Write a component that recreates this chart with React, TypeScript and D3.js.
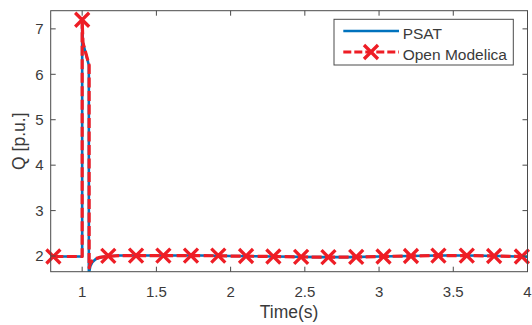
import React from "react";
import * as d3 from "d3";

// PSAT series
const psatT = [0.788, 1.0, 1.0, 1.005, 1.045, 1.045, 1.055, 1.07, 1.09, 1.12, 1.16, 1.25, 1.5, 1.8, 2.0, 2.3, 2.6, 2.8, 3.0, 3.2, 3.4, 3.6, 3.8, 4.0];
const psatQ = [1.99, 1.99, 7.2, 6.7, 6.2, 1.6, 1.78, 1.87, 1.93, 1.97, 1.99, 2.01, 2.01, 2.01, 2.0, 1.99, 1.975, 1.975, 1.99, 2.0, 2.01, 2.01, 2.0, 1.985];

// Open Modelica series
const omT = [0.806, 1.0, 1.0, 1.005, 1.047, 1.047, 1.055, 1.07, 1.09, 1.12, 1.16, 1.25, 1.5, 1.8, 2.0, 2.3, 2.6, 2.8, 3.0, 3.2, 3.4, 3.6, 3.8, 4.0];
const omQ = [1.99, 1.99, 7.2, 6.7, 6.2, 1.74, 1.84, 1.9, 1.94, 1.97, 1.99, 2.01, 2.01, 2.01, 2.0, 1.99, 1.975, 1.975, 1.99, 2.0, 2.01, 2.01, 2.0, 1.985];

// Open Modelica marker positions
const omMarkT = [0.806, 1.0, 1.176, 1.363, 1.547, 1.733, 1.917, 2.104, 2.288, 2.475, 2.659, 2.846, 3.03, 3.215, 3.4, 3.591, 3.775, 3.962];
const omMarkQ = [1.99, 7.2, 2.005, 2.01, 2.01, 2.01, 2.01, 2.0, 1.99, 1.98, 1.975, 1.98, 1.99, 2.0, 2.01, 2.01, 2.0, 1.99];

const xTicks = [1, 1.5, 2, 2.5, 3, 3.5, 4];
const yTicks = [2, 3, 4, 5, 6, 7];
const seriesNames = ["PSAT", "Open Modelica"];

const W = 532, H = 325;
const L = 50.7, R = 527.5, T = 10.7, B = 271.7;
const BLUE = "#0072BD";
const RED = "#EE1D25";
const FONT = "'Liberation Sans', Arial, Helvetica, sans-serif";

export default function App() {
  const x = d3.scaleLinear().domain([0.788, 4]).range([L, R]);
  const y = d3.scaleLinear().domain([1.655, 7.4]).range([B, T]);
  const line = d3.line<[number, number]>().x(d => x(d[0])).y(d => y(d[1]));
  const psat = line(psatT.map((t, i) => [t, psatQ[i]]))!;
  const om = line(omT.map((t, i) => [t, omQ[i]]))!;
  const cross = (cx: number, cy: number, s: number, key: any) => (
    <path key={key} d={`M${cx - s},${cy - s}L${cx + s},${cy + s}M${cx - s},${cy + s}L${cx + s},${cy - s}`} stroke={RED} strokeWidth={3.3} fill="none" />
  );
  const axisColor = "#4a4a4a";
  const textColor = "#3a3a3a";
  return (
    <svg width={W} height={H} style={{ position: "absolute", left: 0, top: 0, background: "#fff" }} fontFamily={FONT}>
      <defs>
        <clipPath id="plot"><rect x={L} y={T} width={R - L} height={B - T} /></clipPath>
      </defs>
      <rect x={0} y={0} width={W} height={H} fill="#fff" />
      <g clipPath="url(#plot)">
        <path d={psat} fill="none" stroke={BLUE} strokeWidth={2.6} strokeLinejoin="round" />
        <path d={om} fill="none" stroke={RED} strokeWidth={3.2} strokeDasharray="10,3.5" strokeLinejoin="round" />
      </g>
      {omMarkT.map((t, i) => cross(x(t), y(omMarkQ[i]), 7, "m" + i))}
      {/* axes box */}
      <rect x={L} y={T} width={R - L} height={B - T} fill="none" stroke={axisColor} strokeWidth={1} />
      {xTicks.map(t => (
        <g key={"x" + t}>
          <line x1={x(t)} x2={x(t)} y1={B} y2={B - 5} stroke={axisColor} />
          <line x1={x(t)} x2={x(t)} y1={T} y2={T + 5} stroke={axisColor} />
          <text x={x(t)} y={297.3} textAnchor="middle" fontSize={15} fill={textColor}>{String(t)}</text>
        </g>
      ))}
      {yTicks.map(t => (
        <g key={"y" + t}>
          <line x1={L} x2={L + 5} y1={y(t)} y2={y(t)} stroke={axisColor} />
          <line x1={R} x2={R - 5} y1={y(t)} y2={y(t)} stroke={axisColor} />
          <text x={43.5} y={y(t) + 5.3} textAnchor="end" fontSize={15} fill={textColor}>{String(t)}</text>
        </g>
      ))}
      <text x={(L + R) / 2} y={317.7} textAnchor="middle" fontSize={17.5} fill={textColor}>Time(s)</text>
      <text transform={`translate(24.5,${(T + B) / 2}) rotate(-90)`} textAnchor="middle" fontSize={17.5} fill={textColor}>Q [p.u.]</text>
      {/* legend */}
      <rect x={334} y={19.3} width={179.3} height={45.7} fill="#fff" stroke={axisColor} strokeWidth={1} />
      <line x1={343.3} x2={399} y1={31} y2={31} stroke={BLUE} strokeWidth={2.6} />
      <text x={402.7} y={39} fontSize={15.5} fill={textColor}>{seriesNames[0]}</text>
      <line x1={343.3} x2={399} y1={52} y2={52} stroke={RED} strokeWidth={3.2} strokeDasharray="8,3" />
      {cross(371, 52, 7, "lg")}
      <text x={402.7} y={59.5} fontSize={15.5} fill={textColor}>{seriesNames[1]}</text>
    </svg>
  );
}
